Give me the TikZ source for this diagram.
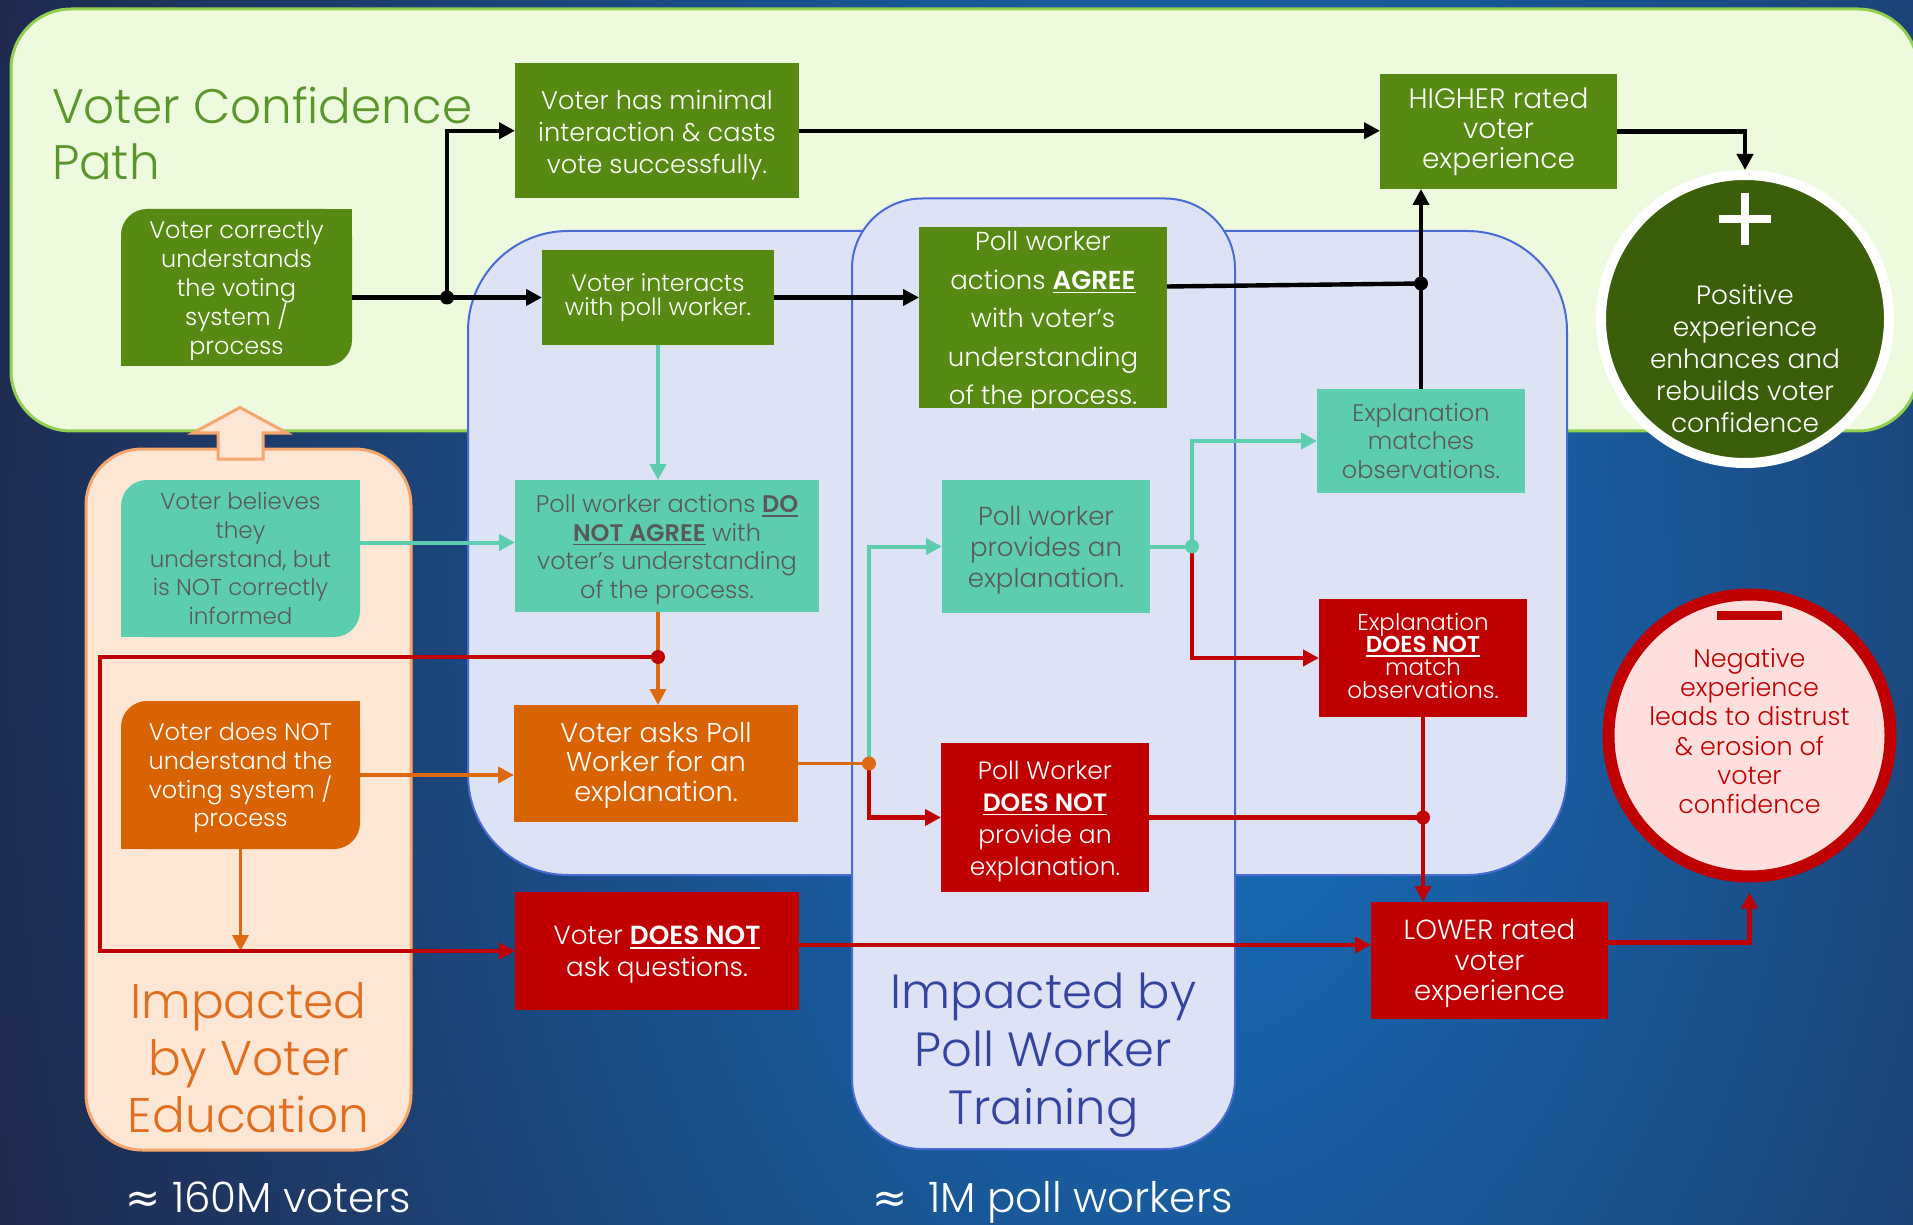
\documentclass[tikz,border=0pt]{standalone}
\usepackage{fontspec}
\setmainfont{Poppins Light}[BoldFont={Poppins SemiBold}]
\newfontfamily\symf{DejaVu Sans}
\usetikzlibrary{arrows.meta,calc}
\definecolor{bgin}{HTML}{1671C0}
\definecolor{bgout}{HTML}{1F2A4E}
\definecolor{lgreen}{HTML}{EEFADD}
\definecolor{lgreenB}{HTML}{92D050}
\definecolor{gboxc}{HTML}{568A12}
\definecolor{dgreen}{HTML}{3B5E0B}
\definecolor{tealc}{HTML}{5CCDAF}
\definecolor{orgc}{HTML}{D86300}
\definecolor{orgline}{HTML}{DD6A10}
\definecolor{redc}{HTML}{C00000}
\definecolor{panelc}{HTML}{DDE3F5}
\definecolor{panelB}{HTML}{4A6AD4}
\definecolor{peach}{HTML}{FEE6D4}
\definecolor{peachB}{HTML}{F6A66C}
\definecolor{titleg}{HTML}{5A962A}
\definecolor{orgtxt}{HTML}{E07020}
\definecolor{bluetxt}{HTML}{3444A0}
\definecolor{graytxt}{HTML}{595959}
\definecolor{pinkc}{HTML}{FFDEDE}
\newsavebox\ulbox
\newcommand\ulb[1]{\leavevmode\sbox\ulbox{\textbf{#1}}\rlap{\rule[-2pt]{\wd\ulbox}{0.8pt}}\usebox\ulbox}
\newcommand\fsz[2]{\fontsize{#1}{#2}\selectfont}
\newcommand\diagfill[5]{%
  \fill[#1, rounded corners=13pt] (#2,#3) rectangle (#4,#5);
  \fill[#1] (#4-30,#3) rectangle (#4,#3+30);
  \fill[#1] (#2,#5-30) rectangle (#2+30,#5);}
% \bnode{style}{name}{x1}{y1}{x2}{y2}{text shift}{text}
\newcommand\bnode[8]{%
  \node[#1, minimum width={(#5-#3)*0.5pt}, minimum height={(#6-#4)*0.5pt}] (#2) at ({(#3+#5)/2},{(#4+#6)/2}) {};
  \node[#1, fill=none] (#2-t) at ([yshift=#7]#2.center) {#8};}
\begin{document}
\begin{tikzpicture}[x=0.5pt,y=-0.5pt,
  >={Triangle[length=8pt,width=8pt]},
  bx/.style={inner sep=0pt, outer sep=0pt, align=center},
  gbox/.style={bx, text=white, fill=gboxc},
  tbox/.style={bx, text=graytxt, fill=tealc},
  obox/.style={bx, text=white, fill=orgc},
  rbox/.style={bx, text=white, fill=redc},
  blkl/.style={draw=black, line width=2.2pt},
  blk/.style={blkl, ->},
  tll/.style={draw=tealc, line width=2pt},
  tla/.style={tll, ->},
  orl/.style={draw=orgline, line width=1.8pt},
  ora/.style={orl, ->},
  rdl/.style={draw=redc, line width=2.2pt},
  rda/.style={rdl, ->},
  region/.style={line width=1.5pt},
  panel/.style={fill=panelc, draw=panelB, line width=1pt}]
\useasboundingbox (0,0) rectangle (1913,1225);
% background
\fill[bgout] (0,0) rectangle (1913,1225);
\begin{scope}
\clip (0,0) rectangle (1913,1225);
\shade[inner color=bgin, outer color=bgout] (1200,600) ellipse[x radius=625pt, y radius=1000pt];
\end{scope}
% regions
\draw[region, fill=lgreen, draw=lgreenB, rounded corners=30pt] (11,9) rectangle (1918,431);
\draw[panel, rounded corners=50pt] (468,231) rectangle (1567,875);
\draw[panel, rounded corners=35pt] (852,198.5) rectangle (1235,1149);
\draw[region, fill=peach, draw=peachB, rounded corners=28pt] (86,449) rectangle (411,1150);
\draw[region, fill=peach, draw=peachB] (218,459) -- (218,433) -- (193,433) -- (240,407.5) -- (287,433) -- (263,433) -- (263,459) -- cycle;
% titles
\node[bx, anchor=west, align=left, text=titleg, font=\fsz{24.2}{28}] (title) at (52,133.75) {Voter Confidence\\Path};
\node[bx, text=orgtxt, font=\fsz{24.3}{28.5}] (edu) at (248.5,1058) {Impacted\\by Voter\\Education};
\node[bx, text=bluetxt, font=\fsz{24}{29}] (pwt) at (1043.5,1055.5) {Impacted by\\Poll Worker\\Training};
\node[bx, anchor=base west, text=white, font=\fsz{21}{25}] (voters) at (125.5,1212) {{\symf ≈} 160M voters};
\node[bx, anchor=base west, text=white, font=\fsz{21}{25}] (workers) at (872,1212) {{\symf ≈}\enspace 1M poll workers};
% boxes
\bnode{gbox, font=\fsz{12.8}{16}}{minimal}{515}{63}{799}{198.5}{-2.4pt}{Voter has minimal\\interaction \& casts\\vote successfully.}
\diagfill{gboxc}{121}{209}{352}{366}
\bnode{bx, text=white, font=\fsz{12}{14.5}}{correct}{121}{209}{352}{366}{-1.8pt}{Voter correctly\\understands\\the voting\\system /\\process}
\bnode{gbox, font=\fsz{11.9}{11.8}}{interacts}{542}{250}{774}{345}{0pt}{Voter interacts\\with poll worker.}
\bnode{gbox, font=\fsz{13}{19.25}}{agree}{919}{227}{1167}{408}{-2.1pt}{Poll worker\\actions \ulb{AGREE}\\with voter’s\\understanding\\of the process.}
\bnode{gbox, font=\fsz{14}{15}}{higher}{1380}{74}{1617}{189}{0pt}{HIGHER rated\\voter\\experience}
\bnode{tbox, font=\fsz{12}{14.25}}{notagree}{515}{480}{819}{612}{-1.8pt}{Poll worker actions \ulb{DO}\\\ulb{NOT AGREE} with\\voter’s understanding\\of the process.}
\diagfill{tealc}{121}{480}{360}{637}
\bnode{bx, text=graytxt, font=\fsz{11.5}{14.3}}{believes}{121}{480}{360}{637}{0pt}{Voter believes\\they\\understand, but\\is NOT correctly\\informed}
\diagfill{orgc}{121}{701}{360}{849}
\bnode{bx, text=white, font=\fsz{12}{14.3}}{doesnot}{121}{701}{360}{849}{-1.5pt}{Voter does NOT\\understand the\\voting system /\\process}
\bnode{obox, font=\fsz{13.6}{14.75}}{asks}{514}{705}{798}{822}{-0.9pt}{Voter asks Poll\\Worker for an\\explanation.}
\bnode{rbox, font=\fsz{13.1}{16}}{dna}{515}{892}{799}{1010}{-1.8pt}{Voter \ulb{DOES NOT}\\ask questions.}
\bnode{tbox, font=\fsz{13}{15.5}}{provides}{942}{480}{1150}{613}{-2.1pt}{Poll worker\\provides an\\explanation.}
\bnode{tbox, font=\fsz{12}{14.3}}{matches}{1317}{389}{1525}{493}{0pt}{Explanation\\matches\\observations.}
\bnode{rbox, font=\fsz{11.5}{11.3}}{explnot}{1319}{599}{1527}{717}{1.2pt}{Explanation\\\ulb{DOES NOT}\\match\\observations.}
\bnode{rbox, font=\fsz{12.5}{16}}{pwnot}{941}{743}{1149}{892}{-1.8pt}{Poll Worker\\\ulb{DOES NOT}\\provide an\\explanation.}
\bnode{rbox, font=\fsz{13.8}{15.4}}{lower}{1371}{902}{1608}{1019}{-1.5pt}{LOWER rated\\voter\\experience}
% circles
\node[circle, fill=dgreen, draw=white, line width=5pt, minimum size=144pt, inner sep=0pt] (positive) at (1745,319) {};
\draw[white, line width=4pt] (1719,219) -- (1771,219) (1745,193) -- (1745,245);
\node[bx, text=white, font=\fsz{13.2}{16}] (postext) at (1745,359) {Positive\\experience\\enhances and\\rebuilds voter\\confidence};
\node[circle, fill=pinkc, draw=redc, line width=6pt, minimum size=141pt, inner sep=0pt] (negative) at (1749.5,735.5) {};
\fill[redc] (1717,611) rectangle (1782,620);
\node[bx, text=redc, font=\fsz{12.7}{14.6}] (negtext) at (1749.5,731) {Negative\\experience\\leads to distrust\\\& erosion of\\voter\\confidence};
% junctions
\coordinate (j1) at (447,297.5);
\coordinate (j2) at (1421,283.5);
\coordinate (j3) at (658,657);
\coordinate (j4) at (869,763.5);
\coordinate (j5) at (1192,546.5);
\coordinate (j6) at (1423,817.5);
\coordinate (c2) at (100,951);
% black connectors
\draw[blk] (correct.east |- interacts.west) -- (interacts.west);
\draw[blk] (j1) |- (minimal.west);
\draw[blk] (interacts.east) -- (interacts.east -| agree.west);
\draw[blk] (minimal.east) -- (minimal.east -| higher.west);
\draw[blk] (higher.east) -| (positive.north);
\draw[blkl] ([yshift=15.5pt]agree.east) -- (j2);
\draw[blkl] (matches.north) -- (j2);
\draw[blk] (j2) -- (j2 |- higher.south);
% teal connectors
\draw[tla] (interacts.south) -- (interacts.south |- notagree.north);
\draw[tla] ([yshift=8pt]believes.east) -- ([yshift=8pt]believes.east -| notagree.west);
\draw[tla] (j4) |- (provides.west);
\draw[tll] (provides.east) -- (j5);
\draw[tla] (j5) |- (matches.west);
% orange connectors
\draw[ora] (doesnot.east) -- (doesnot.east -| asks.west);
\draw[ora] (doesnot.south) -- (doesnot.south |- dna.west);
\draw[orl] (notagree.south -| j3) -- (j3);
\draw[ora] (j3) -- (j3 |- asks.north);
\draw[orl] (asks.east) -- (j4);
% red connectors
\draw[rda] (j3) -| (c2) -- (dna.west);
\draw[rda] (j4) |- (pwnot.west);
\draw[rda] (j5) |- (explnot.west);
\draw[rdl] (pwnot.east) -- (j6);
\draw[rda] (explnot.south) -- (explnot.south |- lower.north);
\draw[rda] ([yshift=3pt]dna.east) -- ([yshift=3pt]dna.east -| lower.west);
\draw[rda, shorten >=5pt] ([yshift=9pt]lower.east) -| (negative.south);
% dots
\fill[black] (j1) circle[radius=3.5pt];
\fill[black] (j2) circle[radius=3.5pt];
\fill[redc] (j3) circle[radius=3.5pt];
\fill[orgline] (j4) circle[radius=3.5pt];
\fill[tealc] (j5) circle[radius=3.5pt];
\fill[redc] (j6) circle[radius=3.5pt];
\end{tikzpicture}
\end{document}
